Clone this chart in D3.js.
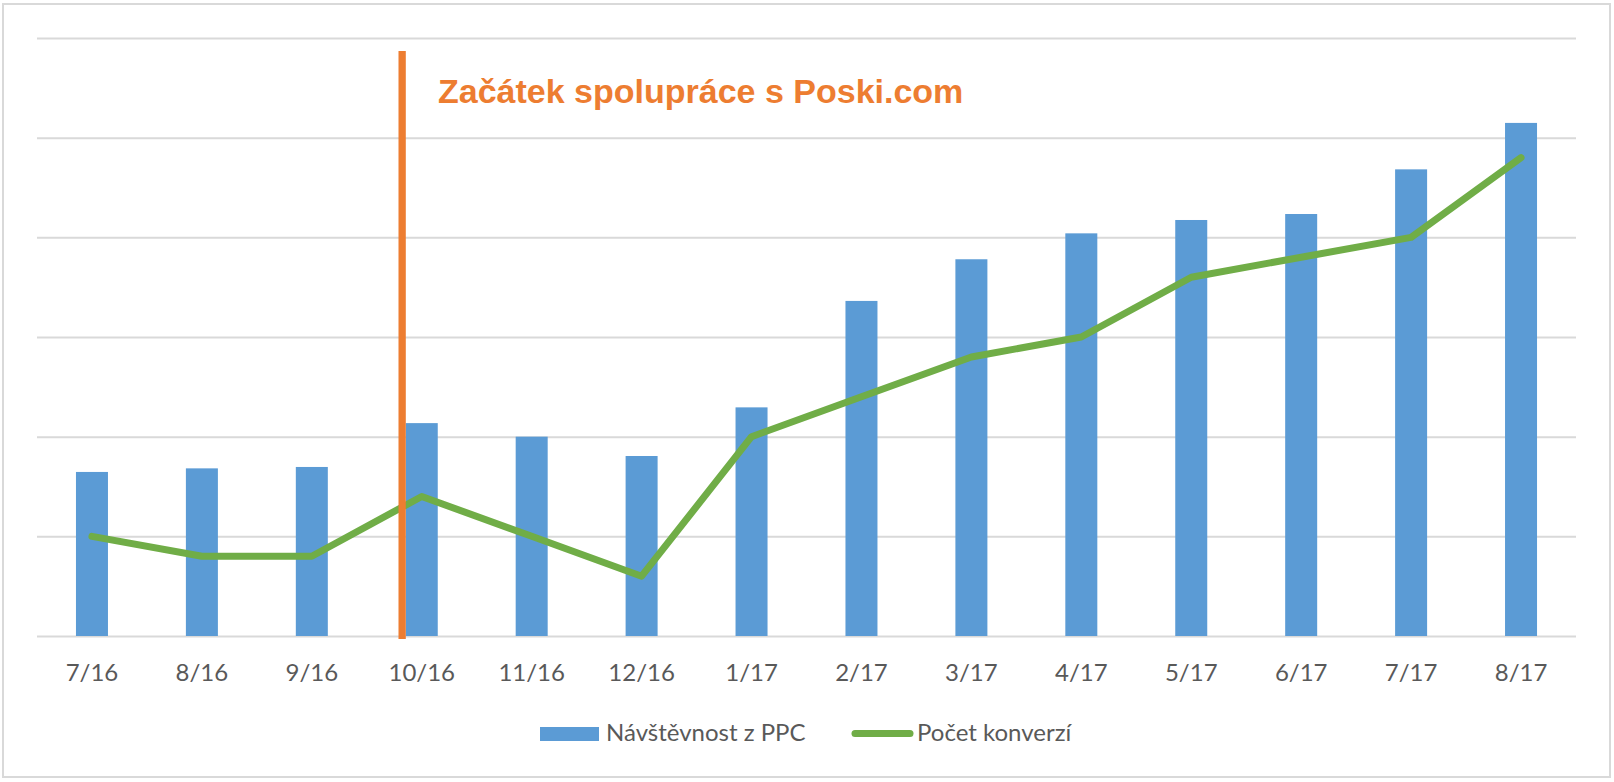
<!DOCTYPE html>
<html>
<head>
<meta charset="utf-8">
<script src="https://cdn.jsdelivr.net/npm/d3@7"></script>
<style>
  html, body { margin: 0; padding: 0; background: #ffffff; }
  svg { display: block; }
</style>
</head>
<body>
<svg id="chart" width="1614" height="782"></svg>
<script>
// ---- data ----
const months = ["7/16","8/16","9/16","10/16","11/16","12/16","1/17","2/17","3/17","4/17","5/17","6/17","7/17","8/17"];
const visits = [823, 841, 848, 1068, 1000, 903, 1147, 1681, 1890, 2020, 2087, 2117, 2341, 2574];
const conversions = [5, 4, 4, 7, 5, 3, 10, 12, 14, 15, 18, 19, 20, 24];
const visitTicks = [0, 500, 1000, 1500, 2000, 2500, 3000];
const seriesNames = ["Návštěvnost z PPC", "Počet konverzí"];
const annotationMonth = "10/16";
const annotationText = "Začátek spolupráce s Poski.com";

// ---- layout ----
const W = 1614, H = 782;
const plot = { left: 37, right: 1576, top: 38, bottom: 636 };
const colors = { bar: "#5B9BD5", line: "#70AD47", marker: "#ED7D31", grid: "#D9D9D9", text: "#595959" };
const labelFont = "Lato, 'Open Sans', sans-serif";

const svg = d3.select("#chart");

// outer border
svg.append("rect")
  .attr("x", 3).attr("y", 4)
  .attr("width", 1607).attr("height", 773)
  .attr("fill", "#fff")
  .attr("stroke", colors.grid).attr("stroke-width", 2);

const pIn = 1 - 32 / ((plot.right - plot.left) / months.length);
const x = d3.scaleBand()
  .domain(months)
  .range([plot.left, plot.right])
  .paddingInner(pIn)
  .paddingOuter(pIn / 2)
  .align(0.5);

const y = d3.scaleLinear().domain([0, 3000]).range([plot.bottom, plot.top]);
const y2 = d3.scaleLinear().domain([0, 30]).range([plot.bottom, plot.top]);

// gridlines (axis without labels)
const yAxis = d3.axisLeft(y)
  .tickValues(visitTicks)
  .tickSize(-(plot.right - plot.left))
  .tickFormat("");
const gGrid = svg.append("g")
  .attr("transform", `translate(${plot.left},0)`)
  .call(yAxis);
gGrid.select(".domain").remove();
gGrid.selectAll(".tick line")
  .attr("stroke", colors.grid).attr("stroke-width", 2);

// bars
svg.append("g").selectAll("rect")
  .data(months)
  .join("rect")
  .attr("x", d => x(d))
  .attr("width", x.bandwidth())
  .attr("y", (d, i) => y(visits[i]))
  .attr("height", (d, i) => y(0) - y(visits[i]))
  .attr("fill", colors.bar);

// line
const line = d3.line()
  .x((d, i) => x(months[i]) + x.bandwidth() / 2)
  .y(d => y2(d));
svg.append("path")
  .datum(conversions)
  .attr("d", line)
  .attr("fill", "none")
  .attr("stroke", colors.line)
  .attr("stroke-width", 7)
  .attr("stroke-linejoin", "round")
  .attr("stroke-linecap", "round");

// x axis labels
const xAxis = d3.axisBottom(x).tickSize(0).tickPadding(0);
const gX = svg.append("g")
  .attr("transform", `translate(0,${plot.bottom})`)
  .call(xAxis);
gX.select(".domain").remove();
gX.selectAll(".tick text")
  .attr("dy", null)
  .attr("y", 45)
  .attr("fill", colors.text)
  .style("font-family", labelFont)
  .style("font-size", "24px");

// annotation marker line
const mx = x(annotationMonth) - 3.6;
svg.append("line")
  .attr("x1", mx).attr("x2", mx)
  .attr("y1", 51).attr("y2", plot.bottom + 3)
  .attr("stroke", colors.marker)
  .attr("stroke-width", 7.3);

svg.append("text")
  .attr("x", 438).attr("y", 103)
  .attr("fill", colors.marker)
  .style("font-family", "'Liberation Sans', Arial, sans-serif")
  .style("font-weight", "bold")
  .style("font-size", "34px")
  .text(annotationText);

// legend
const leg = svg.append("g");
leg.append("rect")
  .attr("x", 540).attr("y", 727)
  .attr("width", 59).attr("height", 14)
  .attr("fill", colors.bar);
leg.append("text")
  .attr("x", 606).attr("y", 741)
  .attr("fill", colors.text)
  .style("font-family", labelFont)
  .style("font-size", "24px")
  .text(seriesNames[0]);
leg.append("line")
  .attr("x1", 855).attr("x2", 910)
  .attr("y1", 733.5).attr("y2", 733.5)
  .attr("stroke", colors.line)
  .attr("stroke-width", 7)
  .attr("stroke-linecap", "round");
leg.append("text")
  .attr("x", 917).attr("y", 741)
  .attr("fill", colors.text)
  .style("font-family", labelFont)
  .style("font-size", "24px")
  .text(seriesNames[1]);
</script>
</body>
</html>
